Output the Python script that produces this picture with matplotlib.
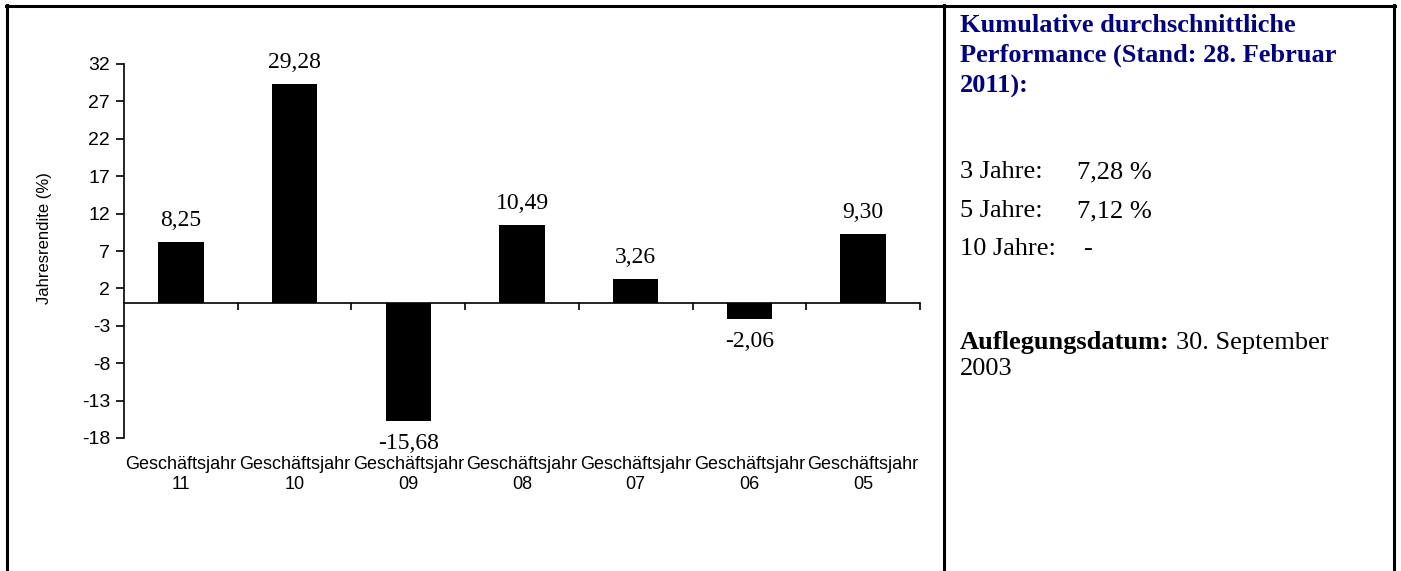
import matplotlib
matplotlib.use("Agg")
import matplotlib.pyplot as plt
from matplotlib.lines import Line2D
import numpy as np

# data
categories = ["Geschäftsjahr\n11", "Geschäftsjahr\n10", "Geschäftsjahr\n09",
              "Geschäftsjahr\n08", "Geschäftsjahr\n07", "Geschäftsjahr\n06",
              "Geschäftsjahr\n05"]
returns = [8.25, 29.28, -15.68, 10.49, 3.26, -2.06, 9.30]
yticks = [32, 27, 22, 17, 12, 7, 2, -3, -8, -13, -18]

perf_labels = ["3 Jahre:", "5 Jahre:", "10 Jahre:"]
perf_values = ["7,28 %", "7,12 %", "-"]

W, H = 1401, 571
fig = plt.figure(figsize=(W / 100, H / 100), dpi=100)

# chart area in pixels
x0, x1, ytop, ybot = 124, 920, 64, 438
ax = fig.add_axes([x0 / W, 1 - ybot / H, (x1 - x0) / W, (ybot - ytop) / H])

n = len(returns)
xs = np.arange(n)
ax.bar(xs, returns, width=0.4, color="black", edgecolor="black", linewidth=0)
ax.set_xlim(-0.5, n - 0.5)
ax.set_ylim(-18, 32)

ax.spines["top"].set_visible(False)
ax.spines["right"].set_visible(False)
ax.spines["bottom"].set_position(("data", 0))
ax.spines["left"].set_linewidth(1.2)
ax.spines["bottom"].set_linewidth(1.2)

ax.set_yticks(yticks)
ax.set_yticklabels([str(t) for t in yticks], family="Liberation Sans", fontsize=14)
ax.tick_params(axis="y", direction="out", length=6, width=1.2, pad=4)

ax.set_xticks(np.arange(n) + 0.5)
ax.set_xticklabels([])
ax.tick_params(axis="x", direction="out", length=5, width=1.2)

ax.set_ylabel("Jahresrendite (%)", family="Liberation Sans", fontsize=12)
ax.yaxis.set_label_coords(-0.091, 0.535)

# category labels below the plot area
trans = ax.get_xaxis_transform()
for x, lab in zip(xs, categories):
    ax.annotate(lab, (x, 0), xycoords=trans, xytext=(0, -13), textcoords="offset points",
                ha="center", va="top", family="Liberation Sans", fontsize=13,
                linespacing=1.2)

# value labels
for x, v in zip(xs, returns):
    off = 15.5 if v >= 0 else -16.5
    ax.annotate(f"{v:.2f}".replace(".", ","), (x, v), xytext=(0, off),
                textcoords="offset points", ha="center", va="center",
                family="Liberation Serif", fontsize=17)

# frame lines
for xx in (6.5, 944, 1394):
    fig.add_artist(Line2D([xx / W, xx / W], [0, 1 - 5 / H], color="black", lw=2.2))
fig.add_artist(Line2D([5.5 / W, 1395 / W], [1 - 6 / H, 1 - 6 / H], color="black", lw=2.2))

# right panel text
tx = 960 / W
fs = 19
navy = "#000080"
for yb, line in zip([32, 62, 93], ["Kumulative durchschnittliche",
                                     "Performance (Stand: 28. Februar",
                                     "2011):"]):
    fig.text(tx, 1 - yb / H, line, color=navy, weight="bold", family="Liberation Serif",
             fontsize=fs, va="baseline")

for yb, lab, val in zip([178, 217, 255], perf_labels, perf_values):
    fig.text(tx, 1 - yb / H, lab, family="Liberation Serif", fontsize=fs, va="baseline")
    vx = 1077 if val != "-" else 1084
    fig.text(vx / W, 1 - yb / H, val, family="Liberation Serif", fontsize=fs, va="baseline")

t = fig.text(tx, 1 - 349 / H, "Auflegungsdatum:", weight="bold", family="Liberation Serif",
             fontsize=fs, va="baseline")
fig.canvas.draw()
bb = t.get_window_extent()
fig.text((bb.x1 + 6) / W, 1 - 349 / H, "30. September", family="Liberation Serif",
         fontsize=fs, va="baseline")
fig.text(tx, 1 - 375 / H, "2003", family="Liberation Serif", fontsize=fs, va="baseline")

fig.savefig("out.png", dpi=100)
